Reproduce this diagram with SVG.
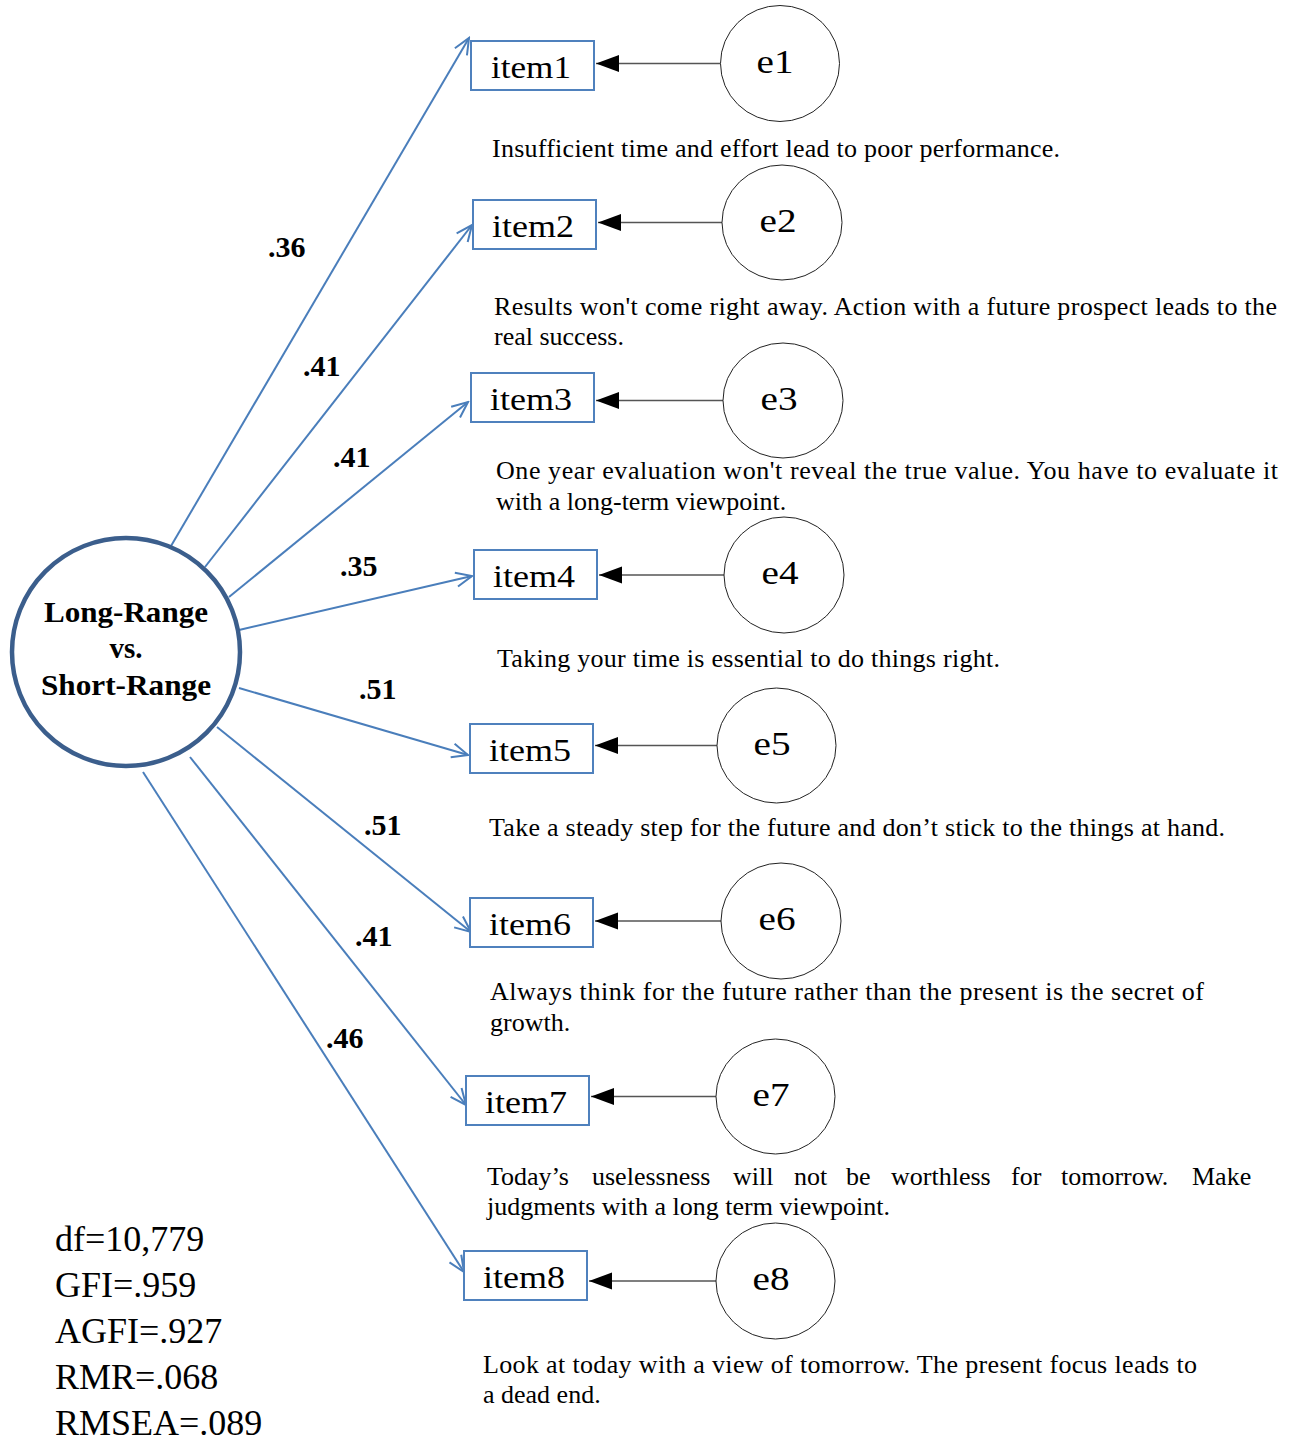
<svg xmlns="http://www.w3.org/2000/svg" width="1293" height="1444" viewBox="0 0 1293 1444">
<style>
.box{fill:#fff;stroke:#4f81bd;stroke-width:2}
.err{fill:#fff;stroke:#222;stroke-width:1}
.lat{fill:#fff;stroke:#3b5e8c;stroke-width:4.5}
.load{fill:none;stroke:#4a7ebb;stroke-width:2;marker-end:url(#open)}
.eline{fill:none;stroke:#555;stroke-width:1.3;marker-end:url(#solid)}
.t{font-family:"Liberation Serif","Times New Roman",serif;fill:#000}
.item{font-size:31px;text-anchor:middle}
.elab{font-size:33px;text-anchor:middle}
.desc{font-size:26px}
.num{font-size:30px;font-weight:bold}
.latt{font-size:29px;font-weight:bold;text-anchor:middle}
.stat{font-size:36px}
</style>
<defs>
<marker id="open" markerUnits="userSpaceOnUse" viewBox="-20 -10 22 20" refX="0" refY="0" markerWidth="22" markerHeight="20" orient="auto">
<path d="M-16,-7 L0,0 L-16,7" fill="none" stroke="#4a7ebb" stroke-width="2"/>
</marker>
<marker id="solid" markerUnits="userSpaceOnUse" viewBox="-24 -10 26 20" refX="0" refY="0" markerWidth="26" markerHeight="20" orient="auto">
<path d="M-23,-8.5 L0,0 L-23,8.5 Z" fill="#000"/>
</marker>
</defs>

<g id="connectors">
<line class="load" x1="171" y1="546" x2="469" y2="38"/>
<line class="load" x1="205" y1="567" x2="472" y2="225"/>
<line class="load" x1="229" y1="597" x2="468" y2="402"/>
<line class="load" x1="239" y1="630" x2="472" y2="576"/>
<line class="load" x1="239" y1="688" x2="468" y2="755"/>
<line class="load" x1="217" y1="727" x2="471" y2="932"/>
<line class="load" x1="190" y1="757" x2="466" y2="1105"/>
<line class="load" x1="143" y1="772" x2="464" y2="1272"/>

<line class="eline" x1="720.5" y1="63.5" x2="596" y2="63.5"/>
<line class="eline" x1="722" y1="222.5" x2="598" y2="222.5"/>
<line class="eline" x1="723" y1="400.5" x2="596" y2="400.5"/>
<line class="eline" x1="724" y1="575" x2="599" y2="575"/>
<line class="eline" x1="717" y1="745.5" x2="595" y2="745.5"/>
<line class="eline" x1="721" y1="921" x2="595" y2="921"/>
<line class="eline" x1="716" y1="1096.5" x2="591" y2="1096.5"/>
<line class="eline" x1="716" y1="1281" x2="589" y2="1281"/>
</g>

<g id="latent">
<circle class="lat" cx="126" cy="652" r="114"/>
<text class="t latt" x="126" y="622" textLength="164" lengthAdjust="spacingAndGlyphs">Long-Range</text>
<text class="t latt" x="126" y="658">vs.</text>
<text class="t latt" x="126" y="695" textLength="170" lengthAdjust="spacingAndGlyphs">Short-Range</text>
</g>

<g id="item1"><rect class="box" x="471" y="41" width="123" height="49"/><text class="t item" x="531" y="78" textLength="80" lengthAdjust="spacingAndGlyphs">item1</text></g>
<g id="item2"><rect class="box" x="473" y="200" width="123" height="49"/><text class="t item" x="533" y="237" textLength="82" lengthAdjust="spacingAndGlyphs">item2</text></g>
<g id="item3"><rect class="box" x="471" y="373" width="123" height="49"/><text class="t item" x="531" y="410" textLength="82" lengthAdjust="spacingAndGlyphs">item3</text></g>
<g id="item4"><rect class="box" x="474" y="550" width="123" height="49"/><text class="t item" x="534" y="587" textLength="82" lengthAdjust="spacingAndGlyphs">item4</text></g>
<g id="item5"><rect class="box" x="470" y="724" width="123" height="49"/><text class="t item" x="530" y="761" textLength="82" lengthAdjust="spacingAndGlyphs">item5</text></g>
<g id="item6"><rect class="box" x="470" y="898" width="123" height="49"/><text class="t item" x="530" y="935" textLength="82" lengthAdjust="spacingAndGlyphs">item6</text></g>
<g id="item7"><rect class="box" x="466" y="1076" width="123" height="49"/><text class="t item" x="526" y="1113" textLength="82" lengthAdjust="spacingAndGlyphs">item7</text></g>
<g id="item8"><rect class="box" x="464" y="1251" width="123" height="49"/><text class="t item" x="524" y="1288" textLength="82" lengthAdjust="spacingAndGlyphs">item8</text></g>

<g id="e1"><ellipse class="err" cx="780" cy="63.5" rx="59.5" ry="58"/><text class="t elab" x="775" y="73" textLength="37" lengthAdjust="spacingAndGlyphs">e1</text></g>
<g id="e2"><ellipse class="err" cx="782" cy="222.5" rx="60" ry="57.5"/><text class="t elab" x="778" y="232" textLength="37" lengthAdjust="spacingAndGlyphs">e2</text></g>
<g id="e3"><ellipse class="err" cx="783" cy="400.5" rx="60" ry="57.5"/><text class="t elab" x="779" y="410" textLength="37" lengthAdjust="spacingAndGlyphs">e3</text></g>
<g id="e4"><ellipse class="err" cx="784" cy="575" rx="60" ry="58"/><text class="t elab" x="780" y="584" textLength="37" lengthAdjust="spacingAndGlyphs">e4</text></g>
<g id="e5"><ellipse class="err" cx="776.5" cy="745.5" rx="59.5" ry="57.5"/><text class="t elab" x="772" y="755" textLength="37" lengthAdjust="spacingAndGlyphs">e5</text></g>
<g id="e6"><ellipse class="err" cx="781" cy="921" rx="60" ry="58"/><text class="t elab" x="777" y="930" textLength="37" lengthAdjust="spacingAndGlyphs">e6</text></g>
<g id="e7"><ellipse class="err" cx="775.5" cy="1096.5" rx="59.5" ry="57.5"/><text class="t elab" x="771" y="1106" textLength="37" lengthAdjust="spacingAndGlyphs">e7</text></g>
<g id="e8"><ellipse class="err" cx="775.5" cy="1281" rx="59.5" ry="58"/><text class="t elab" x="771" y="1290" textLength="37" lengthAdjust="spacingAndGlyphs">e8</text></g>

<g id="loadings">
<text class="t num" x="268" y="257">.36</text>
<text class="t num" x="303" y="376">.41</text>
<text class="t num" x="333" y="467">.41</text>
<text class="t num" x="340" y="576">.35</text>
<text class="t num" x="359" y="699">.51</text>
<text class="t num" x="364" y="835">.51</text>
<text class="t num" x="355" y="946">.41</text>
<text class="t num" x="326" y="1048">.46</text>
</g>

<g id="descriptions">
<text class="t desc" x="492" y="157" textLength="568">Insufficient time and effort lead to poor performance.</text>
<text class="t desc" x="494" y="315" textLength="783">Results won't come right away. Action with a future prospect leads to the</text>
<text class="t desc" x="494" y="345">real success.</text>
<text class="t desc" x="496" y="479" textLength="782">One year evaluation won't reveal the true value. You have to evaluate it</text>
<text class="t desc" x="496" y="510">with a long-term viewpoint.</text>
<text class="t desc" x="497" y="667" textLength="503">Taking your time is essential to do things right.</text>
<text class="t desc" x="489" y="836" textLength="736">Take a steady step for the future and don’t stick to the things at hand.</text>
<text class="t desc" x="490" y="1000" textLength="714">Always think for the future rather than the present is the secret of</text>
<text class="t desc" x="490" y="1031">growth.</text>
<text class="t desc" y="1185"><tspan x="487">Today’s</tspan> <tspan x="592">uselessness</tspan> <tspan x="733">will</tspan> <tspan x="794">not</tspan> <tspan x="846">be</tspan> <tspan x="891">worthless</tspan> <tspan x="1011">for</tspan> <tspan x="1061">tomorrow.</tspan> <tspan x="1192">Make</tspan></text>
<text class="t desc" x="487" y="1215">judgments with a long term viewpoint.</text>
<text class="t desc" x="483" y="1373" textLength="714">Look at today with a view of tomorrow. The present focus leads to</text>
<text class="t desc" x="483" y="1403">a dead end.</text>
</g>

<g id="stats">
<text class="t stat" x="55" y="1251">df=10,779</text>
<text class="t stat" x="55" y="1297">GFI=.959</text>
<text class="t stat" x="55" y="1343">AGFI=.927</text>
<text class="t stat" x="55" y="1389">RMR=.068</text>
<text class="t stat" x="55" y="1435">RMSEA=.089</text>
</g>
</svg>
